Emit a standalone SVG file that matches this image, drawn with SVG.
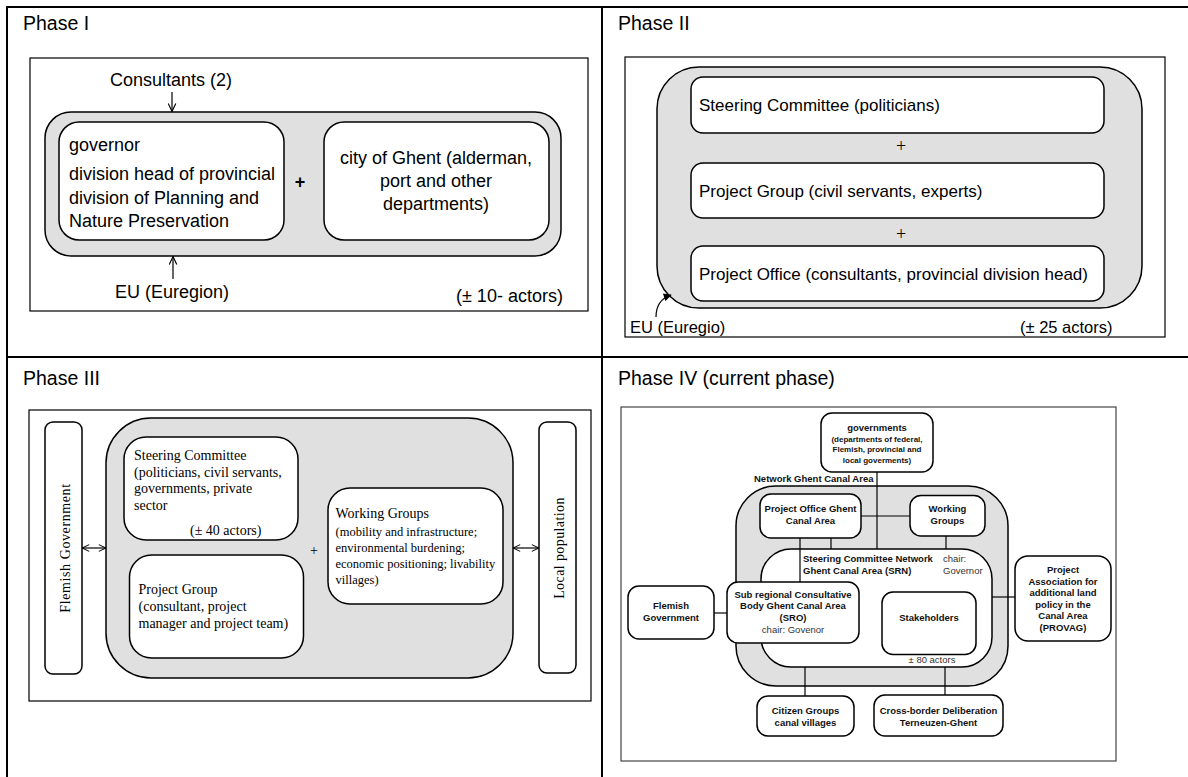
<svg xmlns="http://www.w3.org/2000/svg" width="1188" height="777" viewBox="0 0 1188 777">
<defs>
<style>
.grid{stroke:#000;stroke-width:2;fill:none}
.frame{fill:#fff;stroke:#000;stroke-width:1.2}
.frame4{fill:#fff;stroke:#444;stroke-width:1.2}
.gray{fill:#e0e0e0;stroke:#000;stroke-width:1.5}
.box{fill:#fff;stroke:#000;stroke-width:1.5}
.ln{stroke:#000;stroke-width:1.2;fill:none}
.title{font-family:"Liberation Sans",Arial,sans-serif;font-size:19.5px;fill:#000}
.s18{font-family:"Liberation Sans",Arial,sans-serif;font-size:18px;fill:#000}
.s17{font-family:"Liberation Sans",Arial,sans-serif;font-size:17px;fill:#000}
.s16{font-family:"Liberation Sans",Arial,sans-serif;font-size:16.5px;fill:#000}
.serif{font-family:"Liberation Serif","Times New Roman",serif;font-size:14px;fill:#000}
.serifs{font-family:"Liberation Serif","Times New Roman",serif;font-size:12.5px;fill:#000}
.b{font-family:"Liberation Sans",Arial,sans-serif;font-weight:bold;font-size:9.5px;fill:#111;text-anchor:middle}
.bs{font-family:"Liberation Sans",Arial,sans-serif;font-weight:bold;font-size:8px;fill:#111;text-anchor:middle}
.r{font-family:"Liberation Sans",Arial,sans-serif;font-size:9.5px;fill:#333}
.mid{text-anchor:middle}
.st{text-anchor:start}
</style>
<marker id="open" viewBox="0 0 10 10" refX="9.5" refY="5" markerWidth="10" markerHeight="9" markerUnits="userSpaceOnUse" orient="auto-start-reverse">
<path d="M0.5,0.8 L9.5,5 L0.5,9.2" fill="none" stroke="#000" stroke-width="1.3"/>
</marker>
<marker id="open2" viewBox="0 0 10 10" refX="9.5" refY="5" markerWidth="8" markerHeight="8" markerUnits="userSpaceOnUse" orient="auto-start-reverse">
<path d="M0.5,0.8 L9.5,5 L0.5,9.2" fill="none" stroke="#000" stroke-width="1.3"/>
</marker>
<marker id="solid" viewBox="0 0 10 10" refX="9" refY="5" markerWidth="9" markerHeight="8" markerUnits="userSpaceOnUse" orient="auto">
<path d="M0,0 L10,5 L0,10 Z" fill="#000"/>
</marker>
</defs>

<g id="grid">
<line class="grid" x1="7" y1="7" x2="1188" y2="7"/>
<line class="grid" x1="7" y1="6" x2="7" y2="777"/>
<line class="grid" x1="602" y1="7" x2="602" y2="777"/>
<line class="grid" x1="7" y1="357" x2="1188" y2="357"/>
</g>

<g id="titles">
<text class="title" x="23" y="30">Phase I</text>
<text class="title" x="618" y="30">Phase II</text>
<text class="title" x="23" y="385">Phase III</text>
<text class="title" x="618" y="385">Phase IV (current phase)</text>
</g>

<g id="containers">
<rect class="frame" x="30" y="58" width="558" height="253"/>
<rect class="gray" x="45" y="112" width="516" height="144" rx="26"/>
<rect class="frame" x="625" y="57" width="540" height="280"/>
<rect class="gray" x="657" y="67" width="485" height="241" rx="42"/>
<rect class="frame" x="29" y="410" width="562" height="291"/>
<rect class="gray" x="106" y="418" width="407" height="260" rx="45"/>
<rect class="frame4" x="621" y="407" width="495" height="354"/>
<rect class="gray" x="736" y="486" width="272" height="200" rx="40"/>
<rect id="srn" class="box" x="761" y="549" width="231" height="118" rx="30"/>
</g>

<g id="connectors">
<path class="ln" d="M172,92 V111.5" marker-end="url(#open)"/>
<path class="ln" d="M173,279 V256.5" marker-end="url(#open)"/>
<path class="ln" d="M656,317 Q656,300 671,295" marker-end="url(#solid)"/>
<path class="ln" d="M82,548 H106" marker-start="url(#open2)" marker-end="url(#open2)"/>
<path class="ln" d="M513,548 H539" marker-start="url(#open2)" marker-end="url(#open2)"/>
<path class="ln" d="M877,472 V549"/>
<path class="ln" d="M861,516 H910"/>
<path class="ln" d="M831,538 V549"/>
<path class="ln" d="M800,538 V582"/>
<path class="ln" d="M946,536 V549"/>
<path class="ln" d="M714,613 H727"/>
<path class="ln" d="M805,667 V696"/>
<path class="ln" d="M945,667 V695"/>
<path class="ln" d="M992,597 H1015"/>
</g>

<g id="p1-consultants"><text class="s18 mid" x="171" y="86">Consultants (2)</text></g>
<g id="p1-eu"><text class="s18 mid" x="172" y="298">EU (Euregion)</text></g>
<g id="p1-actors"><text class="s18" x="456" y="302">(± 10- actors)</text></g>
<g id="p1-left">
<rect class="box" x="59" y="122" width="225" height="118" rx="20"/>
<text class="s18" x="69" y="151">governor</text>
<text class="s18" x="69" y="180">division head of provincial</text>
<text class="s18" x="69" y="204">division of Planning and</text>
<text class="s18" x="69" y="227">Nature Preservation</text>
</g>
<g id="p1-plus"><text class="s18 mid" x="300" y="188" font-weight="bold">+</text></g>
<g id="p1-right">
<rect class="box" x="324" y="122" width="225" height="118" rx="20"/>
<text class="s18 mid" x="436" y="164">city of Ghent (alderman,</text>
<text class="s18 mid" x="436" y="187">port and other</text>
<text class="s18 mid" x="436" y="210">departments)</text>
</g>

<g id="p2-steering">
<rect class="box" x="691" y="77" width="413" height="56" rx="12"/>
<text class="s17" x="699" y="111">Steering Committee (politicians)</text>
</g>
<g id="p2-plus1"><text x="901" y="152" font-family="Liberation Serif,serif" font-size="18" text-anchor="middle">+</text></g>
<g id="p2-group">
<rect class="box" x="691" y="163" width="413" height="55" rx="12"/>
<text class="s17" x="699" y="197">Project Group (civil servants, experts)</text>
</g>
<g id="p2-plus2"><text x="901" y="240" font-family="Liberation Serif,serif" font-size="18" text-anchor="middle">+</text></g>
<g id="p2-office">
<rect class="box" x="691" y="246" width="413" height="55" rx="12"/>
<text class="s17" x="699" y="280">Project Office (consultants, provincial division head)</text>
</g>
<g id="p2-eu"><text class="s16" x="630" y="333">EU (Euregio)</text></g>
<g id="p2-actors"><text class="s16" x="1020" y="333">(± 25 actors)</text></g>

<g id="p3-flemish">
<rect class="box" x="45" y="422" width="37" height="252" rx="8"/>
<text class="serif mid" transform="translate(70,548) rotate(-90)" letter-spacing="0.6">Flemish Government</text>
</g>
<g id="p3-local">
<rect class="box" x="539" y="422" width="37" height="251" rx="8"/>
<text class="serif mid" transform="translate(564,548) rotate(-90)" letter-spacing="0.4">Local population</text>
</g>
<g id="p3-steering">
<rect class="box" x="124" y="437" width="174" height="103" rx="22"/>
<text class="serif" x="134" y="460">Steering Committee</text>
<text class="serif" x="134" y="477">(politicians, civil servants,</text>
<text class="serif" x="134" y="493">governments, private</text>
<text class="serif" x="134" y="510">sector</text>
<text class="serif" x="190" y="535">(± 40 actors)</text>
</g>
<g id="p3-group">
<rect class="box" x="129.5" y="555" width="174" height="103" rx="22"/>
<text class="serif" x="138.5" y="594">Project Group</text>
<text class="serif" x="138.5" y="611">(consultant, project</text>
<text class="serif" x="138.5" y="628">manager and project team)</text>
</g>
<g id="p3-plus"><text class="serif mid" x="314" y="555">+</text></g>
<g id="p3-working">
<rect class="box" x="328" y="488" width="175" height="116" rx="22"/>
<text class="serif" x="335.5" y="518">Working Groups</text>
<text class="serifs" x="335.5" y="536">(mobility and infrastructure;</text>
<text class="serifs" x="335.5" y="552">environmental burdening;</text>
<text class="serifs" x="335.5" y="568">economic positioning; livability</text>
<text class="serifs" x="335.5" y="584">villages)</text>
</g>

<g id="p4-network-label"><text class="b st" x="754" y="482" font-size="9">Network Ghent Canal Area</text></g>
<g id="p4-governments">
<rect class="box" x="821" y="413" width="112" height="59" rx="11"/>
<text class="b" x="877" y="431">governments</text>
<text class="bs" x="877" y="442">(departments of federal,</text>
<text class="bs" x="877" y="452">Flemish, provincial and</text>
<text class="bs" x="877" y="462.5">local goverments)</text>
</g>
<g id="p4-office">
<rect class="box" x="760" y="494" width="101" height="44" rx="11"/>
<text class="b" x="810.5" y="512">Project Office Ghent</text>
<text class="b" x="810.5" y="524">Canal Area</text>
</g>
<g id="p4-working">
<rect class="box" x="910" y="495.5" width="75" height="40.5" rx="11"/>
<text class="b" x="947.5" y="512">Working</text>
<text class="b" x="947.5" y="524">Groups</text>
</g>
<g id="p4-srn-label">
<text class="b st" x="803" y="562">Steering Committee Network</text>
<text class="b st" x="803" y="574">Ghent Canal Area (SRN)</text>
<text class="r" x="943" y="562">chair:</text>
<text class="r" x="943" y="574">Governor</text>
</g>
<g id="p4-sro">
<rect class="box" x="727" y="582" width="132" height="61" rx="11"/>
<text class="b" x="793" y="597.5">Sub regional Consultative</text>
<text class="b" x="793" y="609">Body Ghent Canal Area</text>
<text class="b" x="793" y="621">(SRO)</text>
<text class="r mid" x="793" y="632.5">chair: Govenor</text>
</g>
<g id="p4-flemish">
<rect class="box" x="628" y="586" width="86" height="53" rx="11"/>
<text class="b" x="671" y="609">Flemish</text>
<text class="b" x="671" y="621">Government</text>
</g>
<g id="p4-stakeholders">
<rect class="box" x="882" y="592" width="94" height="62.5" rx="11"/>
<text class="b" x="929" y="621">Stakeholders</text>
</g>
<g id="p4-actors"><text class="r mid" x="932" y="663">± 80 actors</text></g>
<g id="p4-citizen">
<rect class="box" x="757" y="696" width="97" height="40" rx="11"/>
<text class="b" x="805.5" y="713.5">Citizen Groups</text>
<text class="b" x="805.5" y="726">canal villages</text>
</g>
<g id="p4-crossborder">
<rect class="box" x="874" y="695" width="129" height="41" rx="11"/>
<text class="b" x="938.5" y="713.5">Cross-border Deliberation</text>
<text class="b" x="938.5" y="726">Terneuzen-Ghent</text>
</g>
<g id="p4-provag">
<rect class="box" x="1015" y="556" width="96" height="85" rx="13"/>
<text class="b" x="1063" y="573">Project</text>
<text class="b" x="1063" y="584.5">Association for</text>
<text class="b" x="1063" y="596">additional land</text>
<text class="b" x="1063" y="607.5">policy in the</text>
<text class="b" x="1063" y="619">Canal Area</text>
<text class="b" x="1063" y="631">(PROVAG)</text>
</g>
</svg>
